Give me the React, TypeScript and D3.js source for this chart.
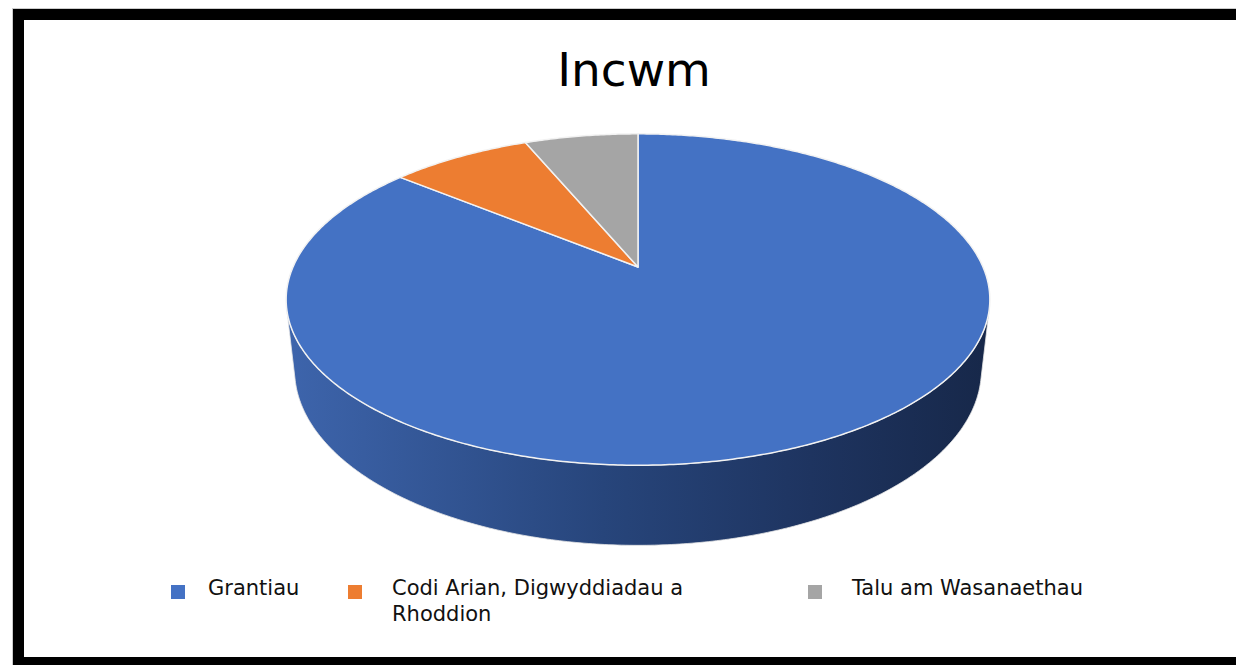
import React from "react";
import * as d3 from "d3";

// Incwm – 3D pie
const categories = ["Grantiau", "Codi Arian, Digwyddiadau a Rhoddion", "Talu am Wasanaethau"];
const values = [85.9, 7.8, 6.3];
const colors = ["#4472C4", "#ED7D31", "#A5A5A5"];
const legendLines = [["Grantiau"], ["Codi Arian, Digwyddiadau a", "Rhoddion"], ["Talu am Wasanaethau"]];
const title = "Incwm";

const W = 1236;
const H = 665;
const FONT = "'DejaVu Sans', sans-serif";

// 3D view params
const cx = 638;
const cy = 267;
const R = 345;
const depthH = 80;
const alpha = (27.5 * Math.PI) / 180;
const D = 1558;

const project = (X: number, Y: number, Z: number): [number, number] => {
  const depth = Z * Math.cos(alpha) + Y * Math.sin(alpha);
  const s = D / (D - depth);
  return [cx + X * s, cy + (Z * Math.sin(alpha) - Y * Math.cos(alpha)) * s];
};

// phi: clockwise from top (far side), same as d3.pie angles
const rim = (phi: number, y: number) => project(R * Math.sin(phi), y, -R * Math.cos(phi));

const sample = (a0: number, a1: number, y: number) => {
  const n = Math.max(2, Math.ceil(Math.abs(a1 - a0) / 0.01));
  return d3.range(n + 1).map((i) => rim(a0 + ((a1 - a0) * i) / n, y));
};

const line = d3.line();

const App = () => {
  const arcs = d3.pie<number>().sort(null).startAngle(0).endAngle(2 * Math.PI)(values);

  // visible part of outer wall
  const visLo = Math.acos(-R / (D * Math.cos(alpha)));
  const visHi = 2 * Math.PI - visLo;

  const walls = arcs
    .map((a, i) => {
      const a0 = Math.max(a.startAngle, visLo);
      const a1 = Math.min(a.endAngle, visHi);
      if (a1 <= a0) return null;
      const pts = [...sample(a0, a1, 0), ...sample(a1, a0, -depthH)];
      return { i, d: line(pts) + "Z" };
    })
    .filter(Boolean) as { i: number; d: string }[];

  const tops = arcs.map((a, i) => {
    const pts = [project(0, 0, 0), ...sample(a.startAngle, a.endAngle, 0)];
    return { i, d: line(pts) + "Z" };
  });

  const legendX = [171, 348, 808];

  return (
    <svg
      width={W}
      height={H}
      style={{ position: "absolute", left: 0, top: 0, background: "#fff" }}
      fontFamily={FONT}
    >
      <defs>
        <linearGradient id="wallGrad" gradientUnits="userSpaceOnUse" x1={cx - R} x2={cx + R} y1={0} y2={0}>
          <stop offset="0" stopColor="#3d64ab" />
          <stop offset="0.45" stopColor="#27457b" />
          <stop offset="0.75" stopColor="#1e3460" />
          <stop offset="1" stopColor="#17284a" />
        </linearGradient>
      </defs>

      <rect x={0} y={0} width={W} height={H} fill="#fff" />
      <rect x={18.5} y={14.5} width={1240} height={648} fill="none" stroke="#000" strokeWidth={11} />
      <rect x={12.5} y={8.5} width={1250} height={660} fill="none" stroke="#ccc" strokeWidth={1} />

      <text x={634} y={86} textAnchor="middle" fontSize={47} fill="#000">
        {title}
      </text>

      <g>
        {walls.map((w) => (
          <path key={"w" + w.i} d={w.d} fill={w.i === 0 ? "url(#wallGrad)" : colors[w.i]} stroke="#e6e6e6" strokeWidth={0.8} />
        ))}
        {tops.map((t) => (
          <path key={"t" + t.i} d={t.d} fill={colors[t.i]} stroke="#f2f2f2" strokeWidth={1.5} strokeLinejoin="round" />
        ))}
      </g>

      <g>
        {categories.map((c, i) => (
          <g key={c}>
            <rect x={legendX[i]} y={585} width={14} height={14} fill={colors[i]} />
            <text x={legendX[i] + 38} y={595} fontSize={21} fill="#111">
              {legendLines[i].map((l, j) => (
                <tspan key={j} x={legendX[i] + (i === 0 ? 37 : 44)} dy={j === 0 ? 0 : 26}>
                  {l}
                </tspan>
              ))}
            </text>
          </g>
        ))}
      </g>
    </svg>
  );
};

export default App;
